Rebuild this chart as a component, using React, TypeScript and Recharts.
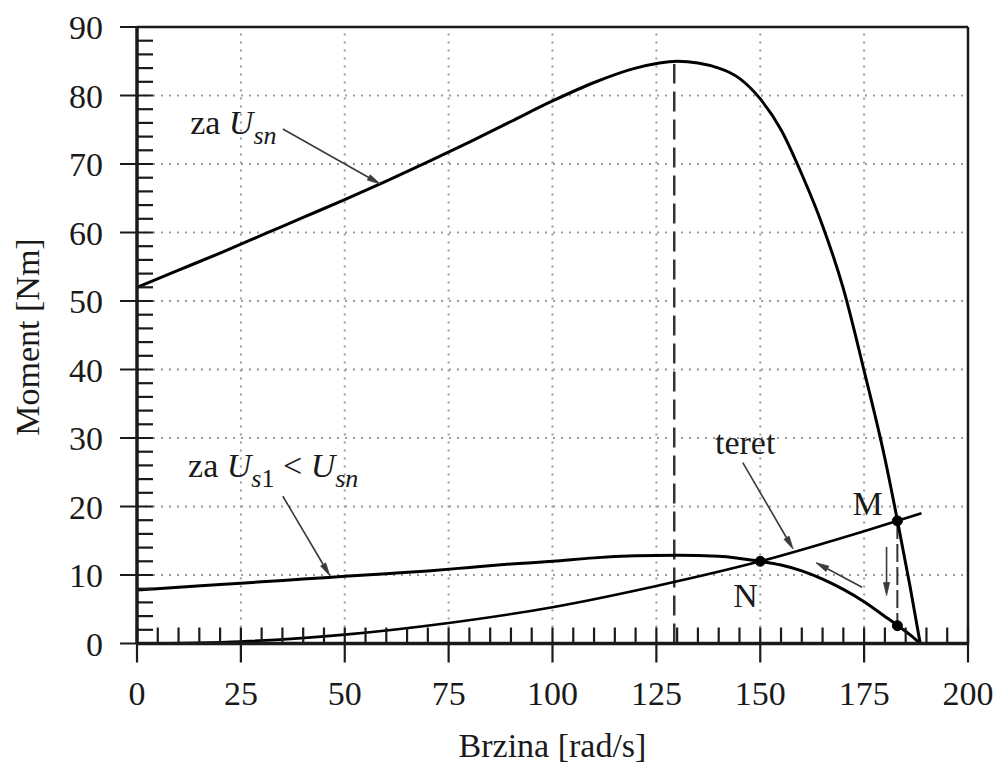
import React from "react";
import {
  LineChart,
  Line,
  XAxis,
  YAxis,
  ReferenceLine,
  ReferenceDot,
} from "recharts";

// speed [rad/s] and torque [Nm]
const speedUsn = [0, 10, 20, 30, 40, 50, 60, 70, 80, 90, 100, 110, 120, 130, 140, 145, 150, 155, 160, 165, 170, 175, 180, 183, 186, 188.5];
const torqueUsn = [52, 54.5, 57, 59.6, 62.2, 64.8, 67.5, 70.3, 73.2, 76.2, 79.2, 81.9, 84, 85, 84, 82.5, 79.5, 75, 68.5, 61, 51.8, 39.8, 27, 18, 8.5, 0];

const speedUs1 = [0, 10, 20, 30, 40, 50, 60, 70, 80, 90, 100, 110, 120, 130, 140, 150, 155, 160, 165, 170, 175, 180, 183, 186, 188.5];
const torqueUs1 = [7.8, 8.2, 8.6, 9, 9.4, 9.8, 10.2, 10.6, 11.1, 11.6, 12, 12.5, 12.8, 12.9, 12.75, 12, 11.45, 10.6, 9.4, 7.9, 6.1, 3.95, 2.65, 1.3, 0];

const speedLoad = [0, 25, 50, 75, 100, 125, 150, 175, 188.8];
const torqueLoad = [0, 0.3, 1.3, 3.0, 5.3, 8.4, 12, 16.4, 19];

const xMajor = [0, 25, 50, 75, 100, 125, 150, 175, 200];
const yMajor = [0, 10, 20, 30, 40, 50, 60, 70, 80, 90];
const xGrid = [25, 50, 75, 100, 125, 150, 175];
const yGrid = [10, 20, 30, 40, 50, 60, 70, 80];

const xTicks: number[] = [];
for (let v = 0; v <= 200; v += 5) xTicks.push(v);
const yTicks: number[] = [];
for (let v = 0; v <= 90; v += 2) yTicks.push(v);

// operating points: M (nominal), N (reduced voltage), and the point below M
const pointM = { w: 183, m: 17.9 };
const pointN = { w: 150, m: 12 };
const pointLow = { w: 183, m: 2.6 };
const peakSpeed = 129.3;

const toRows = (ws: number[], ms: number[]) => ws.map((w, i) => ({ w, m: ms[i] }));

const FONT = "'Liberation Serif', 'Times New Roman', serif";
const FS = 34;
const SUB = 26;
const INK = "#1a1a1a";
const GRID = "#9a9a9a";

const XTick = (props: any) => {
  const { x, y, payload } = props;
  const v = payload.value as number;
  const major = xMajor.includes(v);
  return (
    <g>
      <line x1={x} x2={x} y1={y - 16} y2={major ? y + 19 : y} stroke={INK} strokeWidth={2.2} />
      {major && (
        <text x={x} y={y + 61} textAnchor="middle" fontFamily={FONT} fontSize={FS} fill={INK}>
          {v}
        </text>
      )}
    </g>
  );
};

const YTick = (props: any) => {
  const { x, y, payload } = props;
  const v = payload.value as number;
  const major = yMajor.includes(v);
  return (
    <g>
      <line x1={major ? x - 17 : x} x2={x + 16} y1={y} y2={y} stroke={INK} strokeWidth={2.2} />
      {major && (
        <text x={x - 34} y={y + 12} textAnchor="end" fontFamily={FONT} fontSize={FS} fill={INK}>
          {v}
        </text>
      )}
    </g>
  );
};

const arrowShape = (opts: { len: number; half: number; width: number; color: string }) => (p: any) => {
  const { x1, y1, x2, y2 } = p;
  const dx = x2 - x1;
  const dy = y2 - y1;
  const d = Math.hypot(dx, dy) || 1;
  const ux = dx / d;
  const uy = dy / d;
  const bx = x2 - ux * opts.len;
  const by = y2 - uy * opts.len;
  const head = `${x2},${y2} ${bx - uy * opts.half},${by + ux * opts.half} ${bx + uy * opts.half},${by - ux * opts.half}`;
  return (
    <g>
      <line x1={x1} y1={y1} x2={bx} y2={by} stroke={opts.color} strokeWidth={opts.width} />
      <polygon points={head} fill={opts.color} stroke={opts.color} strokeWidth={0.8} />
    </g>
  );
};

const thinArrow = arrowShape({ len: 13, half: 3, width: 1.6, color: "#3a3a3a" });

const textAt = (content: React.ReactNode) => (p: any) => (
  <text x={p.cx} y={p.cy} fontFamily={FONT} fontSize={FS} fill={INK}>
    {content}
  </text>
);

export default function App() {
  return (
    <div style={{ position: "absolute", left: 0, top: 0, background: "#fff" }}>
      <LineChart width={998} height={765} margin={{ top: 27, right: 30, bottom: 0, left: 0 }}>
        <XAxis
          dataKey="w"
          type="number"
          domain={[0, 200]}
          ticks={xTicks}
          interval={0}
          height={121.5}
          tickSize={0}
          tickMargin={0}
          tick={<XTick />}
          axisLine={{ stroke: INK, strokeWidth: 3.5 }}
          label={{
            content: (p: any) => (
              <text
                x={p.viewBox.x + p.viewBox.width / 2}
                y={757}
                textAnchor="middle"
                fontFamily={FONT}
                fontSize={FS}
                fill={INK}
              >
                Brzina [rad/s]
              </text>
            ),
          }}
        />
        <YAxis
          type="number"
          domain={[0, 90]}
          ticks={yTicks}
          interval={0}
          width={137}
          tickSize={0}
          tickMargin={0}
          tick={<YTick />}
          axisLine={{ stroke: INK, strokeWidth: 3.5 }}
          label={{
            content: () => (
              <text
                x={27}
                y={337}
                transform="rotate(-90 27 337)"
                textAnchor="middle"
                dominantBaseline="central"
                fontFamily={FONT}
                fontSize={FS}
                fill={INK}
              >
                Moment [Nm]
              </text>
            ),
          }}
        />

        {yGrid.map((v) => (
          <ReferenceLine key={"gy" + v} y={v} stroke={GRID} strokeWidth={2} strokeDasharray="2 6" />
        ))}
        {xGrid.map((v) => (
          <ReferenceLine key={"gx" + v} x={v} stroke={GRID} strokeWidth={2} strokeDasharray="2 6" />
        ))}
        <ReferenceLine y={90} stroke={INK} strokeWidth={2.5} />
        <ReferenceLine x={200} stroke={INK} strokeWidth={2.5} />

        <ReferenceLine
          segment={[{ x: peakSpeed, y: 0 }, { x: peakSpeed, y: 84.6 }]}
          stroke="#333"
          strokeWidth={2.5}
          strokeDasharray="20 8"
        />
        <ReferenceLine
          segment={[{ x: pointM.w, y: pointM.m }, { x: pointLow.w, y: pointLow.m }]}
          stroke="#333"
          strokeWidth={2}
          strokeDasharray="18 5"
        />

        <Line data={toRows(speedUsn, torqueUsn)} dataKey="m" type="monotone" stroke="#000" strokeWidth={3} dot={false} isAnimationActive={false} />
        <Line data={toRows(speedUs1, torqueUs1)} dataKey="m" type="monotone" stroke="#000" strokeWidth={3} dot={false} isAnimationActive={false} />
        <Line data={toRows(speedLoad, torqueLoad)} dataKey="m" type="monotone" stroke="#000" strokeWidth={2.6} dot={false} isAnimationActive={false} />

        {/* annotation arrows */}
        <ReferenceLine segment={[{ x: 35.1, y: 75.1 }, { x: 58.5, y: 67.1 }]} shape={thinArrow} />
        <ReferenceLine segment={[{ x: 35.1, y: 21.5 }, { x: 46.4, y: 9.9 }]} shape={thinArrow} />
        <ReferenceLine segment={[{ x: 145.8, y: 26.4 }, { x: 157.9, y: 13.8 }]} shape={thinArrow} />
        <ReferenceLine segment={[{ x: 174.5, y: 8.2 }, { x: 163.4, y: 11.8 }]} shape={thinArrow} />
        <ReferenceLine segment={[{ x: 180.4, y: 14.1 }, { x: 180.4, y: 7.0 }]} shape={thinArrow} />

        <ReferenceDot x={pointM.w} y={pointM.m} r={5} fill="#000" stroke="#000" />
        <ReferenceDot x={pointN.w} y={pointN.m} r={5} fill="#000" stroke="#000" />
        <ReferenceDot x={pointLow.w} y={pointLow.m} r={5} fill="#000" stroke="#000" />

        <ReferenceDot
          x={12.8}
          y={74.4}
          shape={textAt(
            <>
              <tspan>za </tspan>
              <tspan fontStyle="italic">U</tspan>
              <tspan fontStyle="italic" fontSize={SUB} dy={10}>sn</tspan>
            </>
          )}
        />
        <ReferenceDot
          x={12.3}
          y={24.3}
          shape={textAt(
            <>
              <tspan>za </tspan>
              <tspan fontStyle="italic">U</tspan>
              <tspan fontStyle="italic" fontSize={SUB} dy={10}>s</tspan>
              <tspan fontSize={SUB}>1</tspan>
              <tspan dy={-10}> &lt; </tspan>
              <tspan fontStyle="italic">U</tspan>
              <tspan fontStyle="italic" fontSize={SUB} dy={10}>sn</tspan>
            </>
          )}
        />
        <ReferenceDot x={139.1} y={27.7} shape={textAt("teret")} />
        <ReferenceDot x={172.2} y={18.8} shape={textAt("M")} />
        <ReferenceDot x={143.5} y={5.3} shape={textAt("N")} />
      </LineChart>
    </div>
  );
}
